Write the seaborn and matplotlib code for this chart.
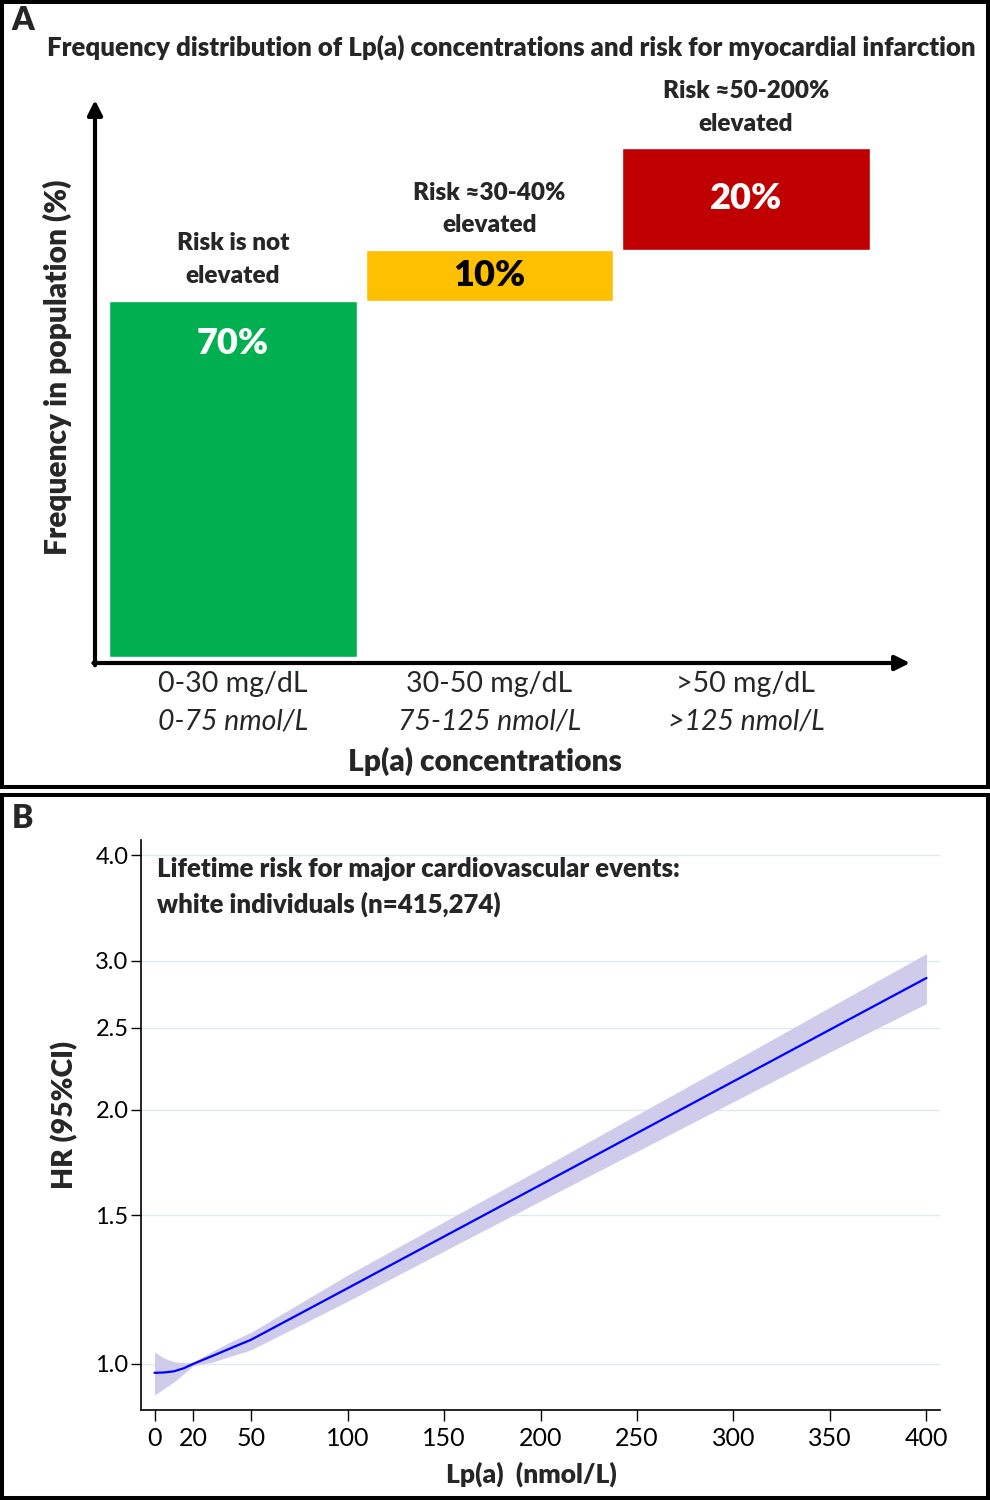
import numpy as np
import pandas as pd
import matplotlib
matplotlib.use('Agg')
import matplotlib.pyplot as plt
import matplotlib.patches as mpatches
import matplotlib.ticker as mticker
import seaborn as sns

# --- Panel A data ---
groups = ['0-30 mg/dL', '30-50 mg/dL', '>50 mg/dL']
groups_nmol = ['0-75 nmol/L', '75-125 nmol/L', '>125 nmol/L']
freq_pct = [70, 10, 20]
risk_text = ['Risk is not\nelevated', 'Risk \u224830-40%\nelevated', 'Risk \u224850-200%\nelevated']
bar_colors = ['#00B050', '#FFC000', '#C00000']
pct_colors = ['white', 'black', 'white']

# --- Panel B data (HR curve with 95% CI) ---
lpa = [0, 5, 10, 15, 20, 25, 30, 40, 50, 100, 150, 200, 250, 300, 350, 400]
hr = [0.976, 0.977, 0.980, 0.988, 1.0, 1.011, 1.022, 1.045, 1.068, 1.229, 1.415,
      1.629, 1.876, 2.160, 2.487, 2.863]
hr_low = [0.919, 0.935, 0.952, 0.973, 0.995, 1.000, 1.005, 1.022, 1.039, 1.186, 1.360,
          1.559, 1.785, 2.044, 2.340, 2.670]
hr_high = [1.033, 1.016, 1.006, 1.003, 1.005, 1.020, 1.035, 1.064, 1.090, 1.274, 1.473,
           1.702, 1.972, 2.282, 2.644, 3.060]
y_ticks = [1.0, 1.5, 2.0, 2.5, 3.0, 4.0]
x_ticks = [0, 20, 50, 100, 150, 200, 250, 300, 350, 400]

sns.set_theme(style='white')
plt.rcParams['font.family'] = ['Lato', 'DejaVu Sans']
BOLD = 'heavy'

W, H = 990, 1500
fig = plt.figure(figsize=(W / 100, H / 100), dpi=100)


def fx(px):
    return px / W


def fy(py):
    return 1 - py / H


# panel frames
for top, bot in [(2, 786.5), (794.5, 1497.5)]:
    fig.add_artist(mpatches.Rectangle((fx(2), fy(bot)), fx(986), (bot - top) / H,
                                      transform=fig.transFigure, fill=False,
                                      edgecolor='black', lw=2.9))

# ============================================================
# PANEL A
# ============================================================
axA = fig.add_axes([fx(95), fy(663), fx(815), 563 / H])
bottoms = np.cumsum([0] + freq_pct[:-1])
xpos = np.arange(len(groups))
axA.bar(xpos, freq_pct, bottom=bottoms, width=0.965, color=bar_colors)
axA.set_xlim(-0.538, 2.64)
axA.set_ylim(-1.2, 109.4)
axA.axis('off')

for i, (h, b) in enumerate(zip(freq_pct, bottoms)):
    top = b + h
    y_lab = b + h / 2 if h <= 20 else top - 8.5
    axA.text(i, y_lab, f'{h}%', ha='center', va='center', fontsize=26,
             fontweight=BOLD, color=pct_colors[i])
    axA.text(i, top + 8, risk_text[i], ha='center', va='center', fontsize=17.5,
             fontweight=BOLD, linespacing=1.6)
    axA.annotate(groups[i], xy=(i, 0), xycoords=('data', 'axes fraction'),
                 xytext=(0, -21), textcoords='offset pixels', ha='center',
                 va='center', fontsize=20.5)
    axA.annotate(groups_nmol[i], xy=(i, 0), xycoords=('data', 'axes fraction'),
                 xytext=(0, -59), textcoords='offset pixels', ha='center',
                 va='center', fontsize=20.5, style='italic')

arrow = dict(arrowstyle='-|>', lw=3, color='black', mutation_scale=22,
             shrinkA=0, shrinkB=0)
axA.annotate('', xy=(1.0, 0), xytext=(-0.002, 0), xycoords='axes fraction',
             arrowprops=arrow)
axA.annotate('', xy=(0, 1.0), xytext=(0, -0.004), xycoords='axes fraction',
             arrowprops=arrow)

fig.text(fx(23), fy(21), 'A', fontsize=23, fontweight=BOLD, ha='center', va='center')
fig.text(fx(511), fy(47), 'Frequency distribution of Lp(a) concentrations and risk for myocardial infarction',
         fontsize=18.5, fontweight=BOLD, ha='center', va='center')
fig.text(fx(57), fy(367), 'Frequency in population (%)', rotation=90, fontsize=21.5,
         fontweight=BOLD, ha='center', va='center')
fig.text(fx(485), fy(761), 'Lp(a) concentrations', fontsize=21.5, fontweight=BOLD,
         ha='center', va='center')

# ============================================================
# PANEL B
# ============================================================
axB = fig.add_axes([fx(141), fy(1410), fx(799), 570 / H])
df = pd.DataFrame({'lpa': lpa, 'hr': hr, 'lo': hr_low, 'hi': hr_high})
axB.fill_between(df['lpa'], df['lo'], df['hi'], color='#CFCCEB', lw=0)
sns.lineplot(data=df, x='lpa', y='hr', color='#0000FF', lw=1.6, ax=axB)
axB.set_yscale('log')
axB.set_ylim(0.882, 4.17)
axB.set_xlim(-7, 407)
axB.yaxis.set_major_locator(mticker.FixedLocator(y_ticks))
axB.yaxis.set_major_formatter(mticker.FixedFormatter([f'{t:.1f}' for t in y_ticks]))
axB.yaxis.set_minor_locator(mticker.NullLocator())
axB.set_xticks(x_ticks)
axB.grid(axis='y', color='#DDEBEE', lw=1)
axB.set_axisbelow(True)
for s in ['top', 'right']:
    axB.spines[s].set_visible(False)
for s in ['left', 'bottom']:
    axB.spines[s].set_color('black')
    axB.spines[s].set_linewidth(1.2)
axB.tick_params(axis='y', direction='out', length=7, width=1, labelsize=17,
                left=True, pad=2, colors='black')
axB.tick_params(axis='x', direction='out', length=8, width=1, labelsize=18,
                bottom=True, pad=4, colors='black')
axB.set_xlabel('')
axB.set_ylabel('')

axB.text(0.02, 0.97, 'Lifetime risk for major cardiovascular events:\nwhite individuals (n=415,274)',
         transform=axB.transAxes, ha='left', va='top', fontsize=18.5,
         fontweight=BOLD, linespacing=1.5)

fig.text(fx(23), fy(818), 'B', fontsize=23, fontweight=BOLD, ha='center', va='center')
fig.text(fx(65), fy(1115), 'HR (95%CI)', rotation=90, fontsize=20.5, fontweight=BOLD,
         ha='center', va='center')
fig.text(fx(531), fy(1474), 'Lp(a)  (nmol/L)', fontsize=19, fontweight=BOLD,
         ha='center', va='center')

fig.savefig('out.png', dpi=100, facecolor='white')
